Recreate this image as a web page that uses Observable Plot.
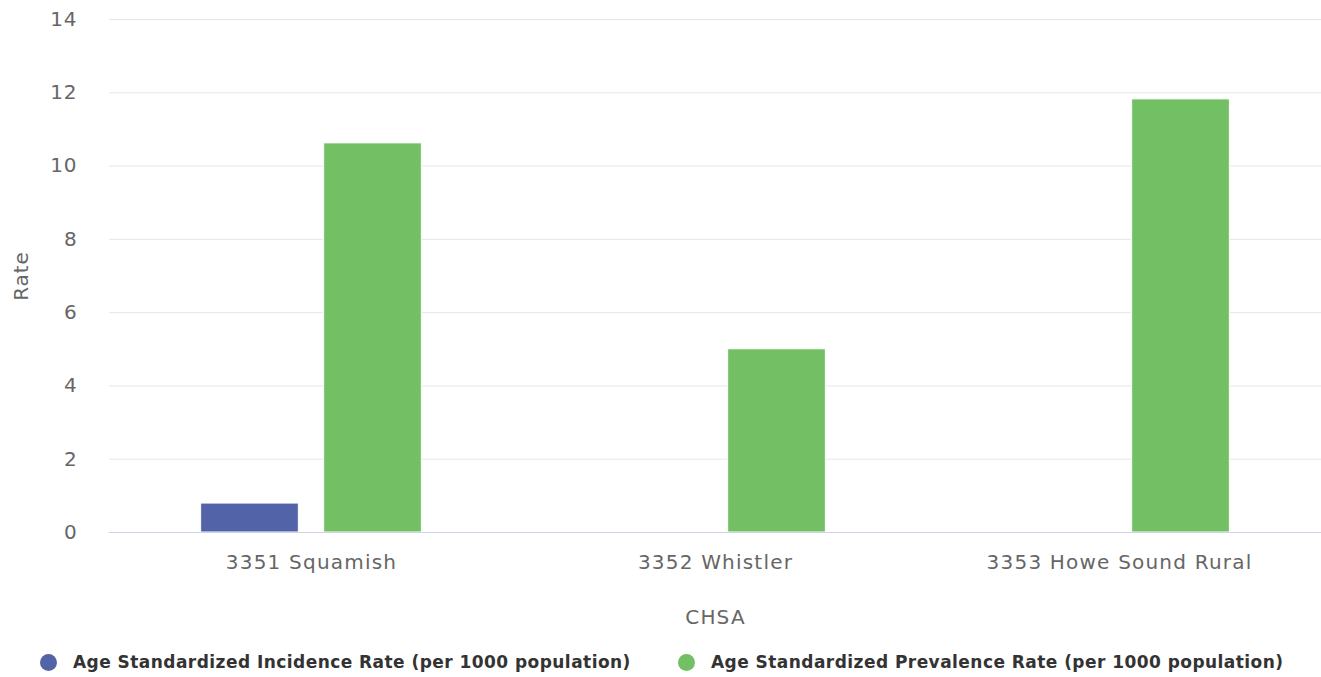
<!DOCTYPE html>
<html><head><meta charset="utf-8">
<script src="https://cdn.jsdelivr.net/npm/d3@7"></script>
<script src="https://cdn.jsdelivr.net/npm/@observablehq/plot@0.6"></script>
<style>
body{margin:0;background:#fff;font-family:"DejaVu Sans",sans-serif;}
#wrap{position:relative;width:1321px;height:677px;}
.leg{position:absolute;top:652px;font-size:17px;font-weight:bold;color:#333;display:flex;align-items:center;white-space:nowrap;letter-spacing:0.45px;}
.dot{width:17px;height:17px;border-radius:50%;margin-right:16px;}
#chart svg g[aria-label*="fx-axis"] text {letter-spacing:1.2px;}
#chart svg g[aria-label*="y-axis"] text {letter-spacing:0.9px;}
</style>
</head><body>
<div id="wrap"><div id="chart"></div></div>
<script>
const chsa = ["3351 Squamish", "3352 Whistler", "3353 Howe Sound Rural"];
const seriesNames = ["Age Standardized Incidence Rate (per 1000 population)", "Age Standardized Prevalence Rate (per 1000 population)"];
const incidence = [0.79, null, null];
const prevalence = [10.62, 5.0, 11.82];
const colors = ["#5363a7", "#73bf63"];
const yTicks = [0, 2, 4, 6, 8, 10, 12, 14];

const data = chsa.flatMap((c, i) => [
  {chsa: c, series: seriesNames[0], value: incidence[i]},
  {chsa: c, series: seriesNames[1], value: prevalence[i]}
]).filter(d => d.value != null);

const chart = Plot.plot({
  width: 1321, height: 640,
  marginLeft: 108, marginRight: 0, marginTop: 19, marginBottom: 108,
  style: {fontSize: "20px", fontFamily: "DejaVu Sans, sans-serif", color: "#666", background: "transparent"},
  facet: {data, x: "chsa"},
  fx: {domain: chsa, padding: 0, label: "CHSA", labelAnchor: "center", labelOffset: 91, tickSize: 0, tickPadding: 22},
  x: {domain: seriesNames, axis: null, paddingInner: 0.206, paddingOuter: 0.745, round: false},
  y: {domain: [0, 14], ticks: yTicks, tickSize: 0, tickPadding: 32, label: "Rate", labelAnchor: "center", labelOffset: 96},
  color: {domain: seriesNames, range: colors},
  marks: [
    Plot.ruleY(yTicks.slice(1), {stroke: "#e6e6e6", strokeWidth: 1}),
    Plot.barY(data, {x: "series", y: "value", fill: "series", stroke: "white", strokeWidth: 1}),
    Plot.ruleY([0], {stroke: "#ccd6eb", strokeWidth: 1})
  ]
});
chart.querySelectorAll("text").forEach(t => {
  if (/^Rate\s*[↑→]$/.test(t.textContent.trim())) t.textContent = "Rate";
});
document.getElementById("chart").appendChild(chart);

const wrap = document.getElementById("wrap");
const legLeft = [40, 678];
seriesNames.forEach((s, i) => {
  const d = document.createElement("div");
  d.className = "leg";
  d.style.left = legLeft[i] + "px";
  d.innerHTML = `<span class="dot" style="background:${colors[i]}"></span><span>${s}</span>`;
  wrap.appendChild(d);
});
</script>
</body></html>
